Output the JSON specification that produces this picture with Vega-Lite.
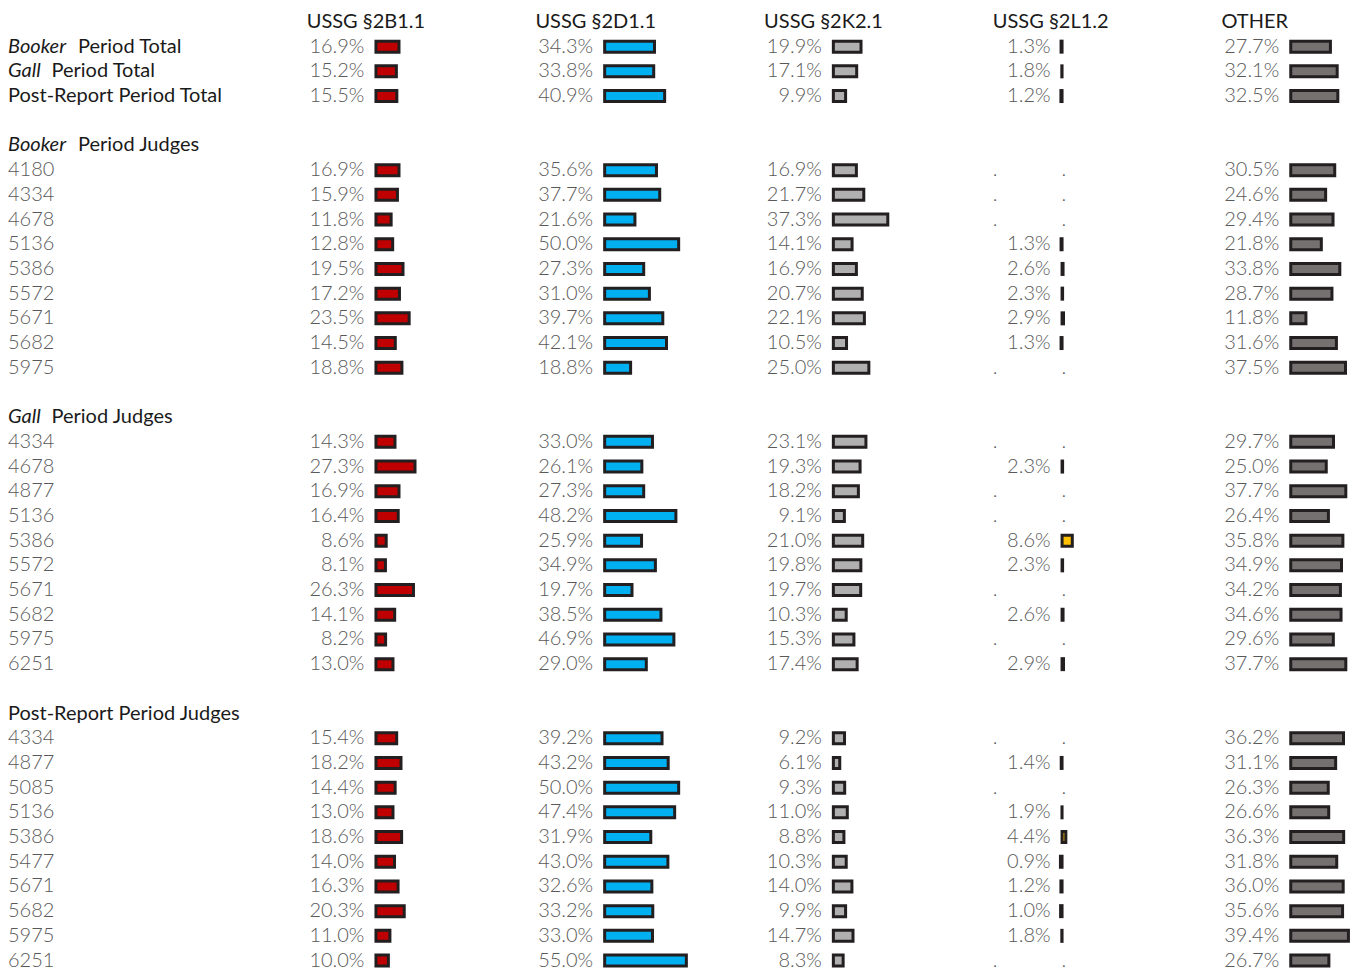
{
"$schema": "https://vega.github.io/schema/vega-lite/v6.json",
"background": "white",
"padding": {"left": 8, "top": 9.6, "right": 0, "bottom": 0},
"bounds": "flush",
"spacing": 97.7,
"data": {"values": [
{"r":"T1","kind":"t","it":"Booker","lab":"Period Total","B":0.169,"D":0.343,"K":0.199,"L":0.013,"O":0.277},
{"r":"T2","kind":"t","it":"Gall","lab":"Period Total","B":0.152,"D":0.338,"K":0.171,"L":0.018,"O":0.321},
{"r":"T3","kind":"t","it":null,"lab":"Post-Report Period Total","B":0.155,"D":0.409,"K":0.099,"L":0.012,"O":0.325},
{"r":"S1","kind":"s","it":"Booker","lab":"Period Judges","B":null,"D":null,"K":null,"L":null,"O":null},
{"r":"B1","kind":"j","it":null,"lab":"4180","B":0.169,"D":0.356,"K":0.169,"L":null,"O":0.305},
{"r":"B2","kind":"j","it":null,"lab":"4334","B":0.159,"D":0.377,"K":0.217,"L":null,"O":0.246},
{"r":"B3","kind":"j","it":null,"lab":"4678","B":0.118,"D":0.216,"K":0.373,"L":null,"O":0.294},
{"r":"B4","kind":"j","it":null,"lab":"5136","B":0.128,"D":0.500,"K":0.141,"L":0.013,"O":0.218},
{"r":"B5","kind":"j","it":null,"lab":"5386","B":0.195,"D":0.273,"K":0.169,"L":0.026,"O":0.338},
{"r":"B6","kind":"j","it":null,"lab":"5572","B":0.172,"D":0.310,"K":0.207,"L":0.023,"O":0.287},
{"r":"B7","kind":"j","it":null,"lab":"5671","B":0.235,"D":0.397,"K":0.221,"L":0.029,"O":0.118},
{"r":"B8","kind":"j","it":null,"lab":"5682","B":0.145,"D":0.421,"K":0.105,"L":0.013,"O":0.316},
{"r":"B9","kind":"j","it":null,"lab":"5975","B":0.188,"D":0.188,"K":0.250,"L":null,"O":0.375},
{"r":"S2","kind":"s","it":"Gall","lab":"Period Judges","B":null,"D":null,"K":null,"L":null,"O":null},
{"r":"G1","kind":"j","it":null,"lab":"4334","B":0.143,"D":0.330,"K":0.231,"L":null,"O":0.297},
{"r":"G2","kind":"j","it":null,"lab":"4678","B":0.273,"D":0.261,"K":0.193,"L":0.023,"O":0.250},
{"r":"G3","kind":"j","it":null,"lab":"4877","B":0.169,"D":0.273,"K":0.182,"L":null,"O":0.377},
{"r":"G4","kind":"j","it":null,"lab":"5136","B":0.164,"D":0.482,"K":0.091,"L":null,"O":0.264},
{"r":"G5","kind":"j","it":null,"lab":"5386","B":0.086,"D":0.259,"K":0.210,"L":0.086,"O":0.358},
{"r":"G6","kind":"j","it":null,"lab":"5572","B":0.081,"D":0.349,"K":0.198,"L":0.023,"O":0.349},
{"r":"G7","kind":"j","it":null,"lab":"5671","B":0.263,"D":0.197,"K":0.197,"L":null,"O":0.342},
{"r":"G8","kind":"j","it":null,"lab":"5682","B":0.141,"D":0.385,"K":0.103,"L":0.026,"O":0.346},
{"r":"G9","kind":"j","it":null,"lab":"5975","B":0.082,"D":0.469,"K":0.153,"L":null,"O":0.296},
{"r":"G10","kind":"j","it":null,"lab":"6251","B":0.130,"D":0.290,"K":0.174,"L":0.029,"O":0.377},
{"r":"S3","kind":"s","it":null,"lab":"Post-Report Period Judges","B":null,"D":null,"K":null,"L":null,"O":null},
{"r":"P1","kind":"j","it":null,"lab":"4334","B":0.154,"D":0.392,"K":0.092,"L":null,"O":0.362},
{"r":"P2","kind":"j","it":null,"lab":"4877","B":0.182,"D":0.432,"K":0.061,"L":0.014,"O":0.311},
{"r":"P3","kind":"j","it":null,"lab":"5085","B":0.144,"D":0.500,"K":0.093,"L":null,"O":0.263},
{"r":"P4","kind":"j","it":null,"lab":"5136","B":0.130,"D":0.474,"K":0.110,"L":0.019,"O":0.266},
{"r":"P5","kind":"j","it":null,"lab":"5386","B":0.186,"D":0.319,"K":0.088,"L":0.044,"O":0.363},
{"r":"P6","kind":"j","it":null,"lab":"5477","B":0.140,"D":0.430,"K":0.103,"L":0.009,"O":0.318},
{"r":"P7","kind":"j","it":null,"lab":"5671","B":0.163,"D":0.326,"K":0.140,"L":0.012,"O":0.360},
{"r":"P8","kind":"j","it":null,"lab":"5682","B":0.203,"D":0.332,"K":0.099,"L":0.010,"O":0.356},
{"r":"P9","kind":"j","it":null,"lab":"5975","B":0.110,"D":0.330,"K":0.147,"L":0.018,"O":0.394},
{"r":"P10","kind":"j","it":null,"lab":"6251","B":0.100,"D":0.550,"K":0.083,"L":null,"O":0.267}
]},
"hconcat": [
{
"width": 200.54, "height": 963.3,
"encoding": {
 "y": {"field":"r","type":"nominal","axis":null,"scale":{"type":"band","domain":["hdr","T1","T2","T3","g1","S1","B1","B2","B3","B4","B5","B6","B7","B8","B9","g2","S2","G1","G2","G3","G4","G5","G6","G7","G8","G9","G10","g3","S3","P1","P2","P3","P4","P5","P6","P7","P8","P9","P10"],"paddingInner":0,"paddingOuter":0}},
 "x": {"datum":0,"type":"quantitative","axis":null,"scale":{"domain":[0,1],"nice":false}}
},
"layer": [
 {"transform":[{"filter":"datum.kind == 'j'"}],"mark":{"type":"text","align":"left","baseline":"middle","font":"Lato","fontSize":20,"fontWeight":300,"color":"#595959"},"encoding":{"text":{"field":"lab"}}},
 {"transform":[{"filter":"datum.kind != 'j' && !datum.it"}],"mark":{"type":"text","align":"left","baseline":"middle","font":"Lato","fontSize":20,"color":"#1a1a1a"},"encoding":{"text":{"field":"lab"}}},
 {"transform":[{"filter":"datum.it"}],"mark":{"type":"text","align":"left","baseline":"middle","font":"Lato","fontSize":20,"fontStyle":"italic","color":"#1a1a1a"},"encoding":{"text":{"field":"it"}}},
 {"transform":[{"filter":"datum.it == 'Booker'"}],"mark":{"type":"text","align":"left","baseline":"middle","font":"Lato","fontSize":20,"dx":70,"color":"#1a1a1a"},"encoding":{"text":{"field":"lab"}}},
 {"transform":[{"filter":"datum.it == 'Gall'"}],"mark":{"type":"text","align":"left","baseline":"middle","font":"Lato","fontSize":20,"dx":43.5,"color":"#1a1a1a"},"encoding":{"text":{"field":"lab"}}}
]
},
{
"width": 130.9, "height": 963.3,
"encoding": {
 "y": {"field":"r","type":"nominal","axis":null,"scale":{"type":"band","domain":["hdr","T1","T2","T3","g1","S1","B1","B2","B3","B4","B5","B6","B7","B8","B9","g2","S2","G1","G2","G3","G4","G5","G6","G7","G8","G9","G10","g3","S3","P1","P2","P3","P4","P5","P6","P7","P8","P9","P10"],"paddingInner":0,"paddingOuter":0}}
},
"layer": [
 {"transform":[{"filter":"isValid(datum.B)"}],"mark":{"type":"bar","height":11,"fill":"#c00000","stroke":"#231f20","strokeWidth":3,"xOffset":-1.5,"x2Offset":1.5},"encoding":{"x":{"field":"B","type":"quantitative","axis":null,"scale":{"domain":[-0.44,0.41],"nice":false,"zero":false}},"x2":{"datum":0}}},
 {"transform":[{"filter":"datum.r == 'T1'"}],"mark":{"type":"text","align":"left","baseline":"middle","font":"Lato","fontSize":20,"color":"#1a1a1a"},"encoding":{"x":{"datum":-0.44,"type":"quantitative"},"y":{"datum":"hdr","type":"nominal"},"text":{"value":"USSG §2B1.1"}}},
 {"transform":[{"filter":"isValid(datum.B)"}],"mark":{"type":"text","align":"right","baseline":"middle","dx":-10,"font":"Lato","fontSize":20,"fontWeight":300,"color":"#595959"},"encoding":{"x":{"datum":0,"type":"quantitative"},"text":{"field":"B","format":".1%"}}},
 {"transform":[{"filter":"datum.kind == 'j' && !isValid(datum.B)"}],"mark":{"type":"text","align":"left","baseline":"middle","font":"Lato","fontSize":20,"fontWeight":300,"color":"#595959"},"encoding":{"x":{"datum":-0.44,"type":"quantitative"},"text":{"value":"."}}},
 {"transform":[{"filter":"datum.kind == 'j' && !isValid(datum.B)"}],"mark":{"type":"text","align":"left","baseline":"middle","dx":1,"font":"Lato","fontSize":20,"fontWeight":300,"color":"#595959"},"encoding":{"x":{"datum":0,"type":"quantitative"},"text":{"value":"."}}}
]
},
{
"width": 130.9, "height": 963.3,
"encoding": {
 "y": {"field":"r","type":"nominal","axis":null,"scale":{"type":"band","domain":["hdr","T1","T2","T3","g1","S1","B1","B2","B3","B4","B5","B6","B7","B8","B9","g2","S2","G1","G2","G3","G4","G5","G6","G7","G8","G9","G10","g3","S3","P1","P2","P3","P4","P5","P6","P7","P8","P9","P10"],"paddingInner":0,"paddingOuter":0}}
},
"layer": [
 {"transform":[{"filter":"isValid(datum.D)"}],"mark":{"type":"bar","height":11,"fill":"#00b0f0","stroke":"#231f20","strokeWidth":3,"xOffset":-1.5,"x2Offset":1.5},"encoding":{"x":{"field":"D","type":"quantitative","axis":null,"scale":{"domain":[-0.44,0.41],"nice":false,"zero":false}},"x2":{"datum":0}}},
 {"transform":[{"filter":"datum.r == 'T1'"}],"mark":{"type":"text","align":"left","baseline":"middle","font":"Lato","fontSize":20,"color":"#1a1a1a"},"encoding":{"x":{"datum":-0.44,"type":"quantitative"},"y":{"datum":"hdr","type":"nominal"},"text":{"value":"USSG §2D1.1"}}},
 {"transform":[{"filter":"isValid(datum.D)"}],"mark":{"type":"text","align":"right","baseline":"middle","dx":-10,"font":"Lato","fontSize":20,"fontWeight":300,"color":"#595959"},"encoding":{"x":{"datum":0,"type":"quantitative"},"text":{"field":"D","format":".1%"}}},
 {"transform":[{"filter":"datum.kind == 'j' && !isValid(datum.D)"}],"mark":{"type":"text","align":"left","baseline":"middle","font":"Lato","fontSize":20,"fontWeight":300,"color":"#595959"},"encoding":{"x":{"datum":-0.44,"type":"quantitative"},"text":{"value":"."}}},
 {"transform":[{"filter":"datum.kind == 'j' && !isValid(datum.D)"}],"mark":{"type":"text","align":"left","baseline":"middle","dx":1,"font":"Lato","fontSize":20,"fontWeight":300,"color":"#595959"},"encoding":{"x":{"datum":0,"type":"quantitative"},"text":{"value":"."}}}
]
},
{
"width": 130.9, "height": 963.3,
"encoding": {
 "y": {"field":"r","type":"nominal","axis":null,"scale":{"type":"band","domain":["hdr","T1","T2","T3","g1","S1","B1","B2","B3","B4","B5","B6","B7","B8","B9","g2","S2","G1","G2","G3","G4","G5","G6","G7","G8","G9","G10","g3","S3","P1","P2","P3","P4","P5","P6","P7","P8","P9","P10"],"paddingInner":0,"paddingOuter":0}}
},
"layer": [
 {"transform":[{"filter":"isValid(datum.K)"}],"mark":{"type":"bar","height":11,"fill":"#b0b0b0","stroke":"#231f20","strokeWidth":3,"xOffset":-1.5,"x2Offset":1.5},"encoding":{"x":{"field":"K","type":"quantitative","axis":null,"scale":{"domain":[-0.44,0.41],"nice":false,"zero":false}},"x2":{"datum":0}}},
 {"transform":[{"filter":"datum.r == 'T1'"}],"mark":{"type":"text","align":"left","baseline":"middle","font":"Lato","fontSize":20,"color":"#1a1a1a"},"encoding":{"x":{"datum":-0.44,"type":"quantitative"},"y":{"datum":"hdr","type":"nominal"},"text":{"value":"USSG §2K2.1"}}},
 {"transform":[{"filter":"isValid(datum.K)"}],"mark":{"type":"text","align":"right","baseline":"middle","dx":-10,"font":"Lato","fontSize":20,"fontWeight":300,"color":"#595959"},"encoding":{"x":{"datum":0,"type":"quantitative"},"text":{"field":"K","format":".1%"}}},
 {"transform":[{"filter":"datum.kind == 'j' && !isValid(datum.K)"}],"mark":{"type":"text","align":"left","baseline":"middle","font":"Lato","fontSize":20,"fontWeight":300,"color":"#595959"},"encoding":{"x":{"datum":-0.44,"type":"quantitative"},"text":{"value":"."}}},
 {"transform":[{"filter":"datum.kind == 'j' && !isValid(datum.K)"}],"mark":{"type":"text","align":"left","baseline":"middle","dx":1,"font":"Lato","fontSize":20,"fontWeight":300,"color":"#595959"},"encoding":{"x":{"datum":0,"type":"quantitative"},"text":{"value":"."}}}
]
},
{
"width": 130.9, "height": 963.3,
"encoding": {
 "y": {"field":"r","type":"nominal","axis":null,"scale":{"type":"band","domain":["hdr","T1","T2","T3","g1","S1","B1","B2","B3","B4","B5","B6","B7","B8","B9","g2","S2","G1","G2","G3","G4","G5","G6","G7","G8","G9","G10","g3","S3","P1","P2","P3","P4","P5","P6","P7","P8","P9","P10"],"paddingInner":0,"paddingOuter":0}}
},
"layer": [
 {"transform":[{"filter":"isValid(datum.L)"}],"mark":{"type":"bar","height":11,"fill":"#ffc000","stroke":"#231f20","strokeWidth":3,"xOffset":-1.5,"x2Offset":1.5},"encoding":{"x":{"field":"L","type":"quantitative","axis":null,"scale":{"domain":[-0.44,0.41],"nice":false,"zero":false}},"x2":{"datum":0}}},
 {"transform":[{"filter":"datum.r == 'T1'"}],"mark":{"type":"text","align":"left","baseline":"middle","font":"Lato","fontSize":20,"color":"#1a1a1a"},"encoding":{"x":{"datum":-0.44,"type":"quantitative"},"y":{"datum":"hdr","type":"nominal"},"text":{"value":"USSG §2L1.2"}}},
 {"transform":[{"filter":"isValid(datum.L)"}],"mark":{"type":"text","align":"right","baseline":"middle","dx":-10,"font":"Lato","fontSize":20,"fontWeight":300,"color":"#595959"},"encoding":{"x":{"datum":0,"type":"quantitative"},"text":{"field":"L","format":".1%"}}},
 {"transform":[{"filter":"datum.kind == 'j' && !isValid(datum.L)"}],"mark":{"type":"text","align":"left","baseline":"middle","font":"Lato","fontSize":20,"fontWeight":300,"color":"#595959"},"encoding":{"x":{"datum":-0.44,"type":"quantitative"},"text":{"value":"."}}},
 {"transform":[{"filter":"datum.kind == 'j' && !isValid(datum.L)"}],"mark":{"type":"text","align":"left","baseline":"middle","dx":1,"font":"Lato","fontSize":20,"fontWeight":300,"color":"#595959"},"encoding":{"x":{"datum":0,"type":"quantitative"},"text":{"value":"."}}}
]
},
{
"width": 130.9, "height": 963.3,
"encoding": {
 "y": {"field":"r","type":"nominal","axis":null,"scale":{"type":"band","domain":["hdr","T1","T2","T3","g1","S1","B1","B2","B3","B4","B5","B6","B7","B8","B9","g2","S2","G1","G2","G3","G4","G5","G6","G7","G8","G9","G10","g3","S3","P1","P2","P3","P4","P5","P6","P7","P8","P9","P10"],"paddingInner":0,"paddingOuter":0}}
},
"layer": [
 {"transform":[{"filter":"isValid(datum.O)"}],"mark":{"type":"bar","height":11,"fill":"#767171","stroke":"#231f20","strokeWidth":3,"xOffset":-1.5,"x2Offset":1.5},"encoding":{"x":{"field":"O","type":"quantitative","axis":null,"scale":{"domain":[-0.44,0.41],"nice":false,"zero":false}},"x2":{"datum":0}}},
 {"transform":[{"filter":"datum.r == 'T1'"}],"mark":{"type":"text","align":"left","baseline":"middle","font":"Lato","fontSize":20,"color":"#1a1a1a"},"encoding":{"x":{"datum":-0.44,"type":"quantitative"},"y":{"datum":"hdr","type":"nominal"},"text":{"value":"OTHER"}}},
 {"transform":[{"filter":"isValid(datum.O)"}],"mark":{"type":"text","align":"right","baseline":"middle","dx":-10,"font":"Lato","fontSize":20,"fontWeight":300,"color":"#595959"},"encoding":{"x":{"datum":0,"type":"quantitative"},"text":{"field":"O","format":".1%"}}},
 {"transform":[{"filter":"datum.kind == 'j' && !isValid(datum.O)"}],"mark":{"type":"text","align":"left","baseline":"middle","font":"Lato","fontSize":20,"fontWeight":300,"color":"#595959"},"encoding":{"x":{"datum":-0.44,"type":"quantitative"},"text":{"value":"."}}},
 {"transform":[{"filter":"datum.kind == 'j' && !isValid(datum.O)"}],"mark":{"type":"text","align":"left","baseline":"middle","dx":1,"font":"Lato","fontSize":20,"fontWeight":300,"color":"#595959"},"encoding":{"x":{"datum":0,"type":"quantitative"},"text":{"value":"."}}}
]
}
],
"config": {"view": {"stroke": null}, "font": "Lato"}
}
